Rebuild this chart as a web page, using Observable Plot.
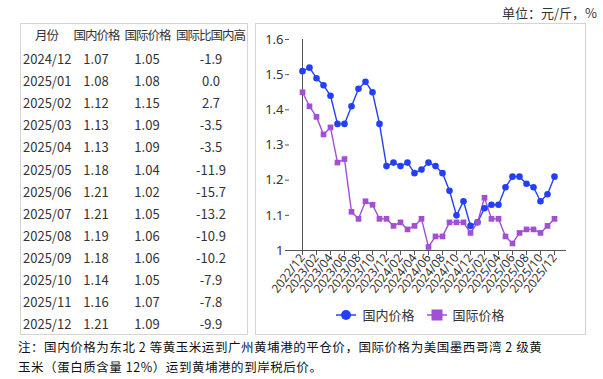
<!DOCTYPE html>
<html><head><meta charset="utf-8">
<script src="https://cdn.jsdelivr.net/npm/d3@7"></script>
<script src="https://cdn.jsdelivr.net/npm/@observablehq/plot@0.6"></script>
<style>
body{margin:0;background:#fff;width:603px;height:379px;overflow:hidden;position:relative;font-family:"Noto Sans CJK SC","Noto Sans",sans-serif;color:#333;}
.panel{position:absolute;border:1px solid #d4d4d4;box-sizing:border-box;background:#fff;}
#tbl{left:20px;top:23px;width:228px;height:312px;}
#chart{left:255px;top:23px;width:331px;height:312px;}
.cell{position:absolute;font-size:13px;white-space:nowrap;transform:translateY(-50%);}
.hdr{font-size:12.5px;letter-spacing:-1px;}
#unit{position:absolute;right:6px;top:3px;font-size:13px;font-family:"Noto Sans CJK SC",serif;}
.note{position:absolute;left:18px;font-size:12.5px;letter-spacing:0.55px;white-space:nowrap;color:#111;}
#legend{position:absolute;top:305px;left:255px;width:331px;text-align:center;font-size:13px;}
</style></head>
<body>
<div id="unit">单位：元/斤，%</div>
<div class="panel" id="tbl"></div>
<div class="panel" id="chart"></div>
<div id="legend"></div>
<div class="note" style="top:337px">注：国内价格为东北 2 等黄玉米运到广州黄埔港的平仓价，国际价格为美国墨西哥湾 2 级黄</div>
<div class="note" style="top:357px">玉米（蛋白质含量 12%）运到黄埔港的到岸税后价。</div>
<script>
const months = ["2022/12","2023/01","2023/02","2023/03","2023/04","2023/05","2023/06","2023/07","2023/08","2023/09","2023/10","2023/11","2023/12",
"2024/01","2024/02","2024/03","2024/04","2024/05","2024/06","2024/07","2024/08","2024/09","2024/10","2024/11","2024/12",
"2025/01","2025/02","2025/03","2025/04","2025/05","2025/06","2025/07","2025/08","2025/09","2025/10","2025/11","2025/12"];
const domestic = [1.51,1.52,1.49,1.47,1.44,1.36,1.36,1.41,1.46,1.48,1.45,1.36,1.24,
1.25,1.24,1.25,1.22,1.23,1.25,1.24,1.22,1.17,1.10,1.14,1.07,
1.08,1.12,1.13,1.13,1.18,1.21,1.21,1.19,1.18,1.14,1.16,1.21];
const international = [1.45,1.41,1.38,1.33,1.35,1.25,1.26,1.11,1.09,1.14,1.13,1.09,1.09,
1.07,1.08,1.06,1.07,1.09,1.01,1.04,1.04,1.08,1.08,1.08,1.05,
1.08,1.15,1.09,1.09,1.04,1.02,1.05,1.06,1.06,1.05,1.07,1.09];
const xTicks = ["2022/12","2023/02","2023/04","2023/06","2023/08","2023/10","2023/12","2024/02","2024/04","2024/06","2024/08","2024/10","2024/12","2025/02","2025/04","2025/06","2025/08","2025/10","2025/12"];
const yTicks = [1,1.1,1.2,1.3,1.4,1.5,1.6];
const seriesNames = ["国内价格","国际价格"];
const seriesColors = ["#2340f5","#a24fd6"];

const tableHeader = ["月份","国内价格","国际价格","国际比国内高"];
const tableMonths = ["2024/12","2025/01","2025/02","2025/03","2025/04","2025/05","2025/06","2025/07","2025/08","2025/09","2025/10","2025/11","2025/12"];
const tableDomestic = ["1.07","1.08","1.12","1.13","1.13","1.18","1.21","1.21","1.19","1.18","1.14","1.16","1.21"];
const tableIntl = ["1.05","1.08","1.15","1.09","1.09","1.04","1.02","1.05","1.06","1.06","1.05","1.07","1.09"];
const tableDiff = ["-1.9","0.0","2.7","-3.5","-3.5","-11.9","-15.7","-13.2","-10.9","-10.2","-7.9","-7.8","-9.9"];

// table
const tbl = document.getElementById("tbl");
function cell(text, left, top, align, cls){
  const d = document.createElement("div");
  d.className = "cell" + (cls ? " " + cls : ""); d.textContent = text;
  d.style.top = top + "px";
  d.style.left = left + "px";
  if (align === "center") d.style.transform = "translate(-50%,-50%)";
  tbl.appendChild(d);
}
const hdrCenters = [25.5, 75.5, 126.5, 189.5];
tableHeader.forEach((h,i)=>cell(h, hdrCenters[i], 10, "center", "hdr"));
tableMonths.forEach((m,r)=>{
  const top = 34 + r*22.1;
  cell(m, 2, top, "left");
  cell(tableDomestic[r], 75, top, "center");
  cell(tableIntl[r], 126, top, "center");
  cell(tableDiff[r], 190, top, "center");
});

// chart
const data = [];
months.forEach((m,i)=>{
  data.push({month:m, value:domestic[i], series:seriesNames[0]});
  data.push({month:m, value:international[i], series:seriesNames[1]});
});
const plot = Plot.plot({
  width: 329, height: 280,
  marginTop: 15, marginLeft: 33, marginRight: 19, marginBottom: 54,
  style: {fontFamily: "'Noto Sans','Noto Sans CJK SC',sans-serif", fontSize: "12px", color: "#333", background: "transparent"},
  x: {type: "point", domain: months, padding: 0, label: null},
  y: {domain: [1, 1.6], label: null},
  color: {domain: seriesNames, range: seriesColors},
  marks: [
    Plot.axisY({ticks: yTicks, tickFormat: d => d3.format("")(+d.toFixed(1)), tickSize: 4, tickPadding: 2, stroke: "#555", fontSize: 13}),
    Plot.axisX({ticks: xTicks, tickRotate: -52, tickSize: 5, tickPadding: 0, stroke: "#555", fontSize: 12}),
    Plot.ruleX([months[0]], {stroke: "#555", y1: 1, y2: 1.6}),
    Plot.ruleY([1], {stroke: "#555"}),
    Plot.line(data, {x: "month", y: "value", stroke: "series", strokeWidth: 1.4}),
    Plot.dot(data.filter(d=>d.series===seriesNames[0]), {x: "month", y: "value", fill: "series", r: 3.3, symbol: "circle"}),
    Plot.dot(data.filter(d=>d.series===seriesNames[1]), {x: "month", y: "value", fill: "series", r: 3.2, symbol: "square"})
  ]
});
plot.style.position = "absolute"; plot.style.left = "0px"; plot.style.top = "0px";
document.getElementById("chart").appendChild(plot);

// legend
const lg = document.getElementById("legend");
lg.innerHTML = seriesNames.map((n,i)=>{
  const sym = i===0 ? `<circle cx="10" cy="6" r="5" fill="${seriesColors[i]}"/>` : `<rect x="4.5" y="0.5" width="11" height="11" fill="${seriesColors[i]}"/>`;
  return `<span style="display:inline-block;margin:0 6px;"><svg width="20" height="12" style="vertical-align:-1px;margin-right:6px"><line x1="0" x2="20" y1="6" y2="6" stroke="${seriesColors[i]}" stroke-width="1.5"/>${sym}</svg>${n}</span>`;
}).join("");
</script>
</body></html>
